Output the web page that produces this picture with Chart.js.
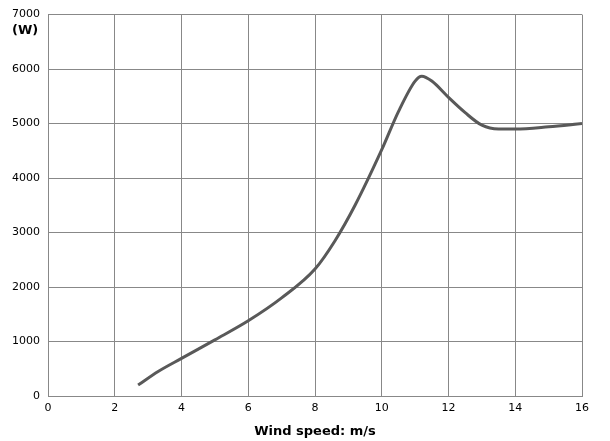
<!DOCTYPE html>
<html><head><meta charset="utf-8">
<script src="https://cdn.jsdelivr.net/npm/chart.js@4"></script>
<style>html,body{margin:0;padding:0;background:#fff}#w{width:610px;height:441px}</style>
</head><body><div id="w"><canvas id="c"></canvas></div>
<script>
const windSpeed = [2.7, 3.3, 4, 5, 6, 7, 8, 8.6, 9.2, 10, 10.5, 11, 11.2, 11.5, 12, 12.5, 13, 13.5, 14, 15, 16];
const power     = [200, 450, 690, 1030, 1380, 1800, 2330, 2850, 3500, 4520, 5220, 5780, 5870, 5780, 5480, 5200, 4970, 4900, 4900, 4940, 5000];
const xTicks = [0,2,4,6,8,10,12,14,16];
const yTicks = [0,1000,2000,3000,4000,5000,6000,7000];
const font = {family:'Verdana, "DejaVu Sans", sans-serif', size:11};
const unitLabel = {id:'unit', afterDraw(ch){const c=ch.ctx;c.save();c.font='bold 13px "DejaVu Sans", sans-serif';c.fillStyle='#000';c.textBaseline='middle';c.fillText('(W)',12,31);c.restore();}};
new Chart(document.getElementById('c'),{
  type:'scatter',
  data:{datasets:[{data:windSpeed.map((x,i)=>({x,y:power[i]})),showLine:true,borderColor:'#595959',borderWidth:3,pointRadius:0,tension:0.4,cubicInterpolationMode:'monotone',fill:false}]},
  options:{responsive:true,maintainAspectRatio:false,animation:false,
    layout:{padding:{top:12,right:28,left:0,bottom:0}},
    plugins:{legend:{display:false},tooltip:{enabled:false}},
    scales:{
      x:{type:'linear',min:0,max:16,afterBuildTicks:a=>{a.ticks=xTicks.map(v=>({value:v}));},
        afterFit:a=>{a.height=45;},
        grid:{color:'#888',drawTicks:false},border:{color:'#888'},
        ticks:{color:'#000',font,padding:6,callback:v=>String(v)},
        title:{display:true,text:'Wind speed: m/s',color:'#000',font:{family:'"DejaVu Sans", sans-serif',size:13,weight:'bold'},padding:{top:0,bottom:2}}},
      y:{min:0,max:7000,afterBuildTicks:a=>{a.ticks=yTicks.map(v=>({value:v}));},
        afterFit:a=>{a.width=48;},
        grid:{color:'#888',drawTicks:false},border:{color:'#888'},
        ticks:{color:'#000',font,padding:8,callback:v=>String(v)}}
    }},
  plugins:[unitLabel]
});
</script></body></html>
